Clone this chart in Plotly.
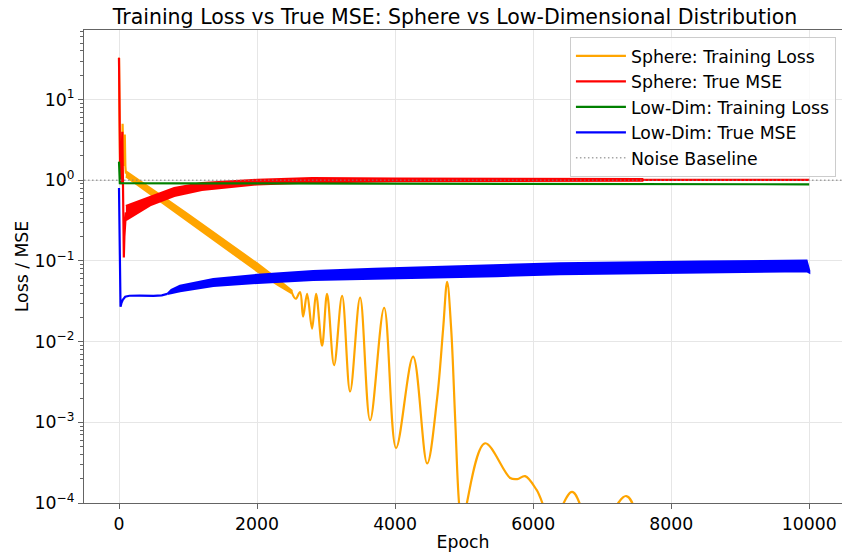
import plotly.graph_objects as go

# ---------------- data ----------------
# Sphere: training loss, early transient
sphere_train_early_epochs = [0, 6, 15, 30, 45, 52, 58, 66, 75, 84, 92, 100]
sphere_train_early = [33.0, 1.6, 1.5, 1.6, 2.0, 5.0, 1.7, 1.5, 2.0, 3.7, 1.5, 1.21]
# Sphere: training loss, fast-oscillation envelope (window max / min)
sphere_train_band_epochs = [100, 300, 600, 1000, 1500, 2000, 2300, 2500]
sphere_train_band_hi = [1.29, 0.99, 0.655, 0.376, 0.188, 0.093, 0.059, 0.043]
sphere_train_band_lo = [1.12, 0.835, 0.545, 0.308, 0.152, 0.075, 0.0505, 0.040]
# Sphere: training loss, late damped oscillations
sphere_train_late_epochs = [2500, 2560, 2623, 2667, 2725, 2797, 2855, 2942, 3014, 3116,
                            3232, 3348, 3493, 3638, 3841, 4014, 4261, 4464, 4609, 4696,
                            4754, 4812, 4870, 4928, 4985, 5040, 5304, 5667, 5770, 5884,
                            6050, 6280, 6565, 6900, 7348, 7650, 8500, 9999]
sphere_train_late = [0.0414, 0.034, 0.041, 0.0204, 0.039, 0.0145, 0.039, 0.0089, 0.039, 0.0051,
                     0.037, 0.00241, 0.035, 0.00106, 0.0263, 0.00048, 0.0065, 0.00031, 0.0020, 0.0145,
                     0.055, 0.0145, 0.0011, 0.000095, 0.00004, 0.0001, 0.00055, 0.000204, 0.000198, 0.000215,
                     0.000145, 0.00006, 0.000137, 0.00004, 0.000122, 0.00004, 0.00002, 0.00001]

# Sphere: true MSE
sphere_mse_early_epochs = [0, 8, 18, 28, 38, 48, 56, 64, 70, 78, 90, 100]
sphere_mse_early = [33.0, 5.0, 1.0, 0.9, 1.5, 4.0, 1.2, 0.3, 0.11, 0.2, 0.3, 0.4]
sphere_mse_band_epochs = [100, 300, 450, 800, 1200, 2000, 2800, 4000, 5500, 7580]
sphere_mse_band_hi = [0.48, 0.56, 0.62, 0.80, 0.92, 1.01, 1.06, 1.045, 1.035, 1.03]
sphere_mse_band_lo = [0.32, 0.41, 0.49, 0.64, 0.76, 0.89, 0.94, 0.975, 0.985, 0.99]
sphere_mse_tail_epochs = [7580, 9999]
sphere_mse_tail = [1.01, 1.01]

# Low-dimensional: training loss
lowdim_train_epochs = [0, 12, 1000, 3000, 6000, 9999]
lowdim_train = [1.7, 0.92, 0.915, 0.91, 0.90, 0.89]

# Low-dimensional: true MSE
lowdim_mse_early_epochs = [0, 6, 14, 22, 35, 55, 90, 150, 300, 500, 620, 700]
lowdim_mse_early = [0.8, 0.25, 0.05, 0.027, 0.030, 0.033, 0.036, 0.037, 0.0372, 0.0368, 0.0375, 0.039]
lowdim_mse_band_epochs = [700, 760, 884, 1366, 2009, 2813, 3700, 5472, 6389, 8417, 9960, 9999]
lowdim_mse_band_hi = [0.039, 0.0437, 0.0492, 0.0594, 0.0672, 0.0746, 0.080, 0.0889, 0.0936, 0.0979, 0.1007, 0.076]
lowdim_mse_band_lo = [0.039, 0.0404, 0.0422, 0.0491, 0.0536, 0.0584, 0.0612, 0.065, 0.0684, 0.0715, 0.0748, 0.072]

NOISE_LEVEL = 1.0

x_tick_vals = [0, 2000, 4000, 6000, 8000, 10000]
x_tick_text = ["0", "2000", "4000", "6000", "8000", "10000"]
y_tick_vals = [1e-4, 1e-3, 1e-2, 1e-1, 1e0, 1e1]
y_tick_text = ["10<sup>\u22124</sup>", "10<sup>\u22123</sup>", "10<sup>\u22122</sup>",
               "10<sup>\u22121</sup>", "10<sup>0</sup>", "10<sup>1</sup>"]

# ---------------- style ----------------
FONT = "DejaVu Sans"
ORANGE, RED, GREEN, BLUE = "#FFA500", "#FF0000", "#008000", "#0000FF"
LW = 2.2
AXIS_COLOR = "rgb(100,100,100)"
GRID_COLOR = "#e6e6e6"

minor_vals = [k * 10.0 ** d for d in range(-4, 2) for k in range(2, 10) if k * 10.0 ** d < 72]


def band(xs, hi, lo, color, group):
    return go.Scatter(
        x=xs + xs[::-1], y=hi + lo[::-1], mode="lines", fill="toself",
        fillcolor=color, line=dict(color=color, width=LW),
        legendgroup=group, showlegend=False, hoverinfo="skip",
    )


def line(xs, ys, color, group, name=None, shape="linear"):
    return go.Scatter(
        x=xs, y=ys, mode="lines", line=dict(color=color, width=LW, shape=shape),
        legendgroup=group, name=name, showlegend=name is not None,
    )


fig = go.Figure()
fig.add_trace(line(sphere_train_early_epochs, sphere_train_early, ORANGE, "st", "Sphere: Training Loss"))
fig.add_trace(band(sphere_train_band_epochs, sphere_train_band_hi, sphere_train_band_lo, ORANGE, "st"))
fig.add_trace(line(sphere_train_late_epochs, sphere_train_late, ORANGE, "st", shape="spline"))

fig.add_trace(line(sphere_mse_early_epochs, sphere_mse_early, RED, "sm", "Sphere: True MSE"))
fig.add_trace(band(sphere_mse_band_epochs, sphere_mse_band_hi, sphere_mse_band_lo, RED, "sm"))
fig.add_trace(line(sphere_mse_tail_epochs, sphere_mse_tail, RED, "sm"))

fig.add_trace(line(lowdim_train_epochs, lowdim_train, GREEN, "lt", "Low-Dim: Training Loss"))

fig.add_trace(line(lowdim_mse_early_epochs, lowdim_mse_early, BLUE, "lm", "Low-Dim: True MSE"))
fig.add_trace(band(lowdim_mse_band_epochs, lowdim_mse_band_hi, lowdim_mse_band_lo, BLUE, "lm"))

BASE_STYLE = dict(color="rgba(128,128,128,0.7)", width=1.5, dash="1.5px,2.5px")
fig.add_trace(go.Scatter(x=[None], y=[None], mode="lines", line=BASE_STYLE,
                         name="Noise Baseline", legendgroup="nb"))
fig.add_hline(y=NOISE_LEVEL, line=BASE_STYLE, layer="above")

fig.update_layout(
    width=842, height=552,
    margin=dict(l=84, r=0, t=30, b=46),
    plot_bgcolor="white", paper_bgcolor="white",
    font=dict(family=FONT, size=17.3, color="black"),
    title=dict(text="Training Loss vs True MSE: Sphere vs Low-Dimensional Distribution",
               font=dict(size=20.5, family=FONT, color="black"),
               x=455 / 842, xanchor="center", y=1 - 17 / 552, yanchor="middle"),
    showlegend=True,
    legend=dict(x=0.992, xanchor="right", y=0.985, yanchor="top",
                bgcolor="rgba(255,255,255,0.8)", bordercolor="#cccccc", borderwidth=1,
                font=dict(size=17.3, family=FONT), tracegroupgap=0, itemwidth=50),
)
fig.update_xaxes(
    range=[-507, 10474], tickvals=x_tick_vals, ticktext=x_tick_text, ticks="outside", ticklen=5,
    tickcolor=AXIS_COLOR, showline=True, linecolor=AXIS_COLOR, linewidth=1.3, mirror=True,
    showgrid=True, gridcolor=GRID_COLOR, gridwidth=1.1, zeroline=False,
    title=dict(text="Epoch", standoff=6, font=dict(size=17.3)),
)
fig.update_yaxes(
    type="log", range=[-4, 1.862], tickvals=y_tick_vals, ticktext=y_tick_text,
    ticks="outside", ticklen=5, tickcolor=AXIS_COLOR,
    showline=True, linecolor=AXIS_COLOR, linewidth=1.3, mirror=False,
    showgrid=True, gridcolor=GRID_COLOR, gridwidth=1.1, zeroline=False,
    minor=dict(tickmode="array", tickvals=minor_vals, ticks="outside", ticklen=3,
               tickcolor=AXIS_COLOR, showgrid=False),
    title=dict(text="Loss / MSE", standoff=1, font=dict(size=17.3)),
)

fig.write_html("out.html")
